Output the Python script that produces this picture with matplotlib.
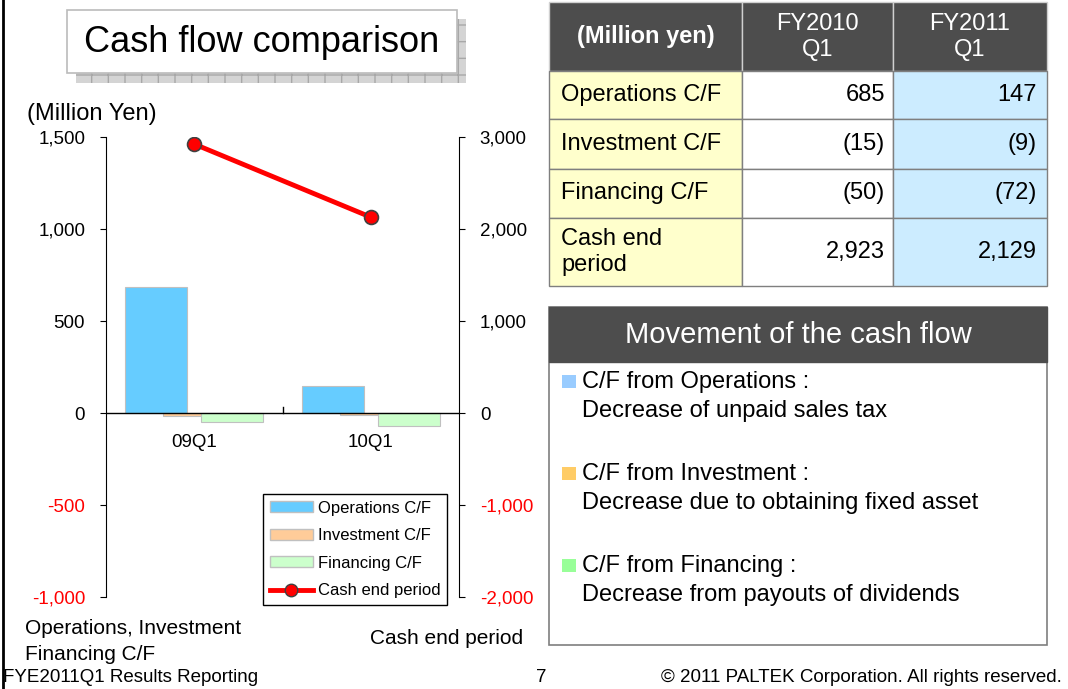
import matplotlib
matplotlib.use("Agg")
import matplotlib.pyplot as plt
from matplotlib.patches import Rectangle, Patch
from matplotlib.lines import Line2D
from matplotlib.ticker import FixedLocator, FuncFormatter

plt.rcParams["font.family"] = ["Liberation Sans", "DejaVu Sans"]
plt.rcParams["axes.unicode_minus"] = False

# chart data (million yen)
quarters = ["09Q1", "10Q1"]
operations = [685, 147]
investment = [-15, -9]
financing = [-50, -72]
cash_end = [2923, 2129]

# table / text panel
row_labels = ["Operations C/F", "Investment C/F", "Financing C/F", "Cash end\nperiod"]
col_labels = ["(Million yen)", "FY2010\nQ1", "FY2011\nQ1"]
fy2010 = [685, -15, -50, 2923]
fy2011 = [147, -9, -72, 2129]
movement_heads = ["C/F from Operations :", "C/F from Investment :", "C/F from Financing :"]
movement_notes = ["Decrease of unpaid sales tax",
                  "Decrease due to obtaining fixed asset",
                  "Decrease from payouts of dividends"]

W, H = 1068, 689
fig = plt.figure(figsize=(W / 100, H / 100), dpi=100)


def fx(x):
    return x / W


def fy(y):
    return 1 - y / H


def box(x0, y0, x1, y1, **kw):
    fig.add_artist(Rectangle((fx(x0), fy(y1)), fx(x1) - fx(x0), fy(y0) - fy(y1),
                             transform=fig.transFigure, **kw))


def txt(x, y, s, **kw):
    fig.text(fx(x), fy(y), s, **kw)


def money(v):
    return "({:,})".format(-v) if v < 0 else "{:,}".format(v)


# left border line
fig.add_artist(Line2D([fx(3), fx(3)], [0, 1], color="black", lw=2, transform=fig.transFigure))

# title box with hatched shadow
box(76, 19, 466, 83, facecolor="#D4D4D4", edgecolor="#A8A8A8", hatch="+", lw=0)
box(67, 10, 457, 73, facecolor="white", edgecolor="#BBBBBB", lw=1.2)
txt(262, 42, "Cash flow comparison", fontsize=26, ha="center", va="center")

# ---- chart ----
ax = fig.add_axes([fx(106), fy(597), fx(459) - fx(106), fy(137) - fy(597)])
ax2 = ax.twinx()
x = list(range(len(quarters)))
bw = 0.351
off = 0.215
edge = "#C0C0C0"
ax.bar([i - off for i in x], operations, bw, color="#66CCFF", edgecolor=edge, lw=0.8,
       label="Operations C/F")
ax.bar(x, investment, bw, color="#FFCC99", edgecolor=edge, lw=0.8, label="Investment C/F")
ax.bar([i + off for i in x], financing, bw, color="#CCFFCC", edgecolor=edge, lw=0.8,
       label="Financing C/F")
ax.axhline(0, color="black", lw=1)
ax.set_xlim(-0.5, 1.5)
ax.set_ylim(-1000, 1500)
ax2.set_ylim(-2000, 3000)
ax2.plot(x, cash_end, color="red", lw=3.5, marker="o", ms=10, mfc="red", mec="#404040",
         mew=1.2, label="Cash end period")

for a in (ax, ax2):
    a.spines["top"].set_visible(False)
    a.spines["bottom"].set_visible(False)
ax.spines["right"].set_visible(False)
ax2.spines["left"].set_visible(False)

fmt = FuncFormatter(lambda v, p: "{:,.0f}".format(v))
ax.yaxis.set_major_locator(FixedLocator([-1000, -500, 0, 500, 1000, 1500]))
ax2.yaxis.set_major_locator(FixedLocator([-2000, -1000, 0, 1000, 2000, 3000]))
for a in (ax, ax2):
    a.yaxis.set_major_formatter(fmt)
    a.tick_params(axis="y", labelsize=13.5, length=4, pad=11)
ax.set_xticks([0.5])
ax.set_xticklabels([""])
ax.tick_params(axis="x", direction="in", length=0)
ax.axvline(0.5, ymin=1000 / 2500, ymax=1000 / 2500 + 0.012, color="black", lw=1)
fig.canvas.draw()
for a in (ax, ax2):
    for lab, v in zip(a.get_yticklabels(), a.get_yticks()):
        if v < 0:
            lab.set_color("red")
for i, q in enumerate(quarters):
    ax.text(i, -160, q, ha="center", va="center", fontsize=13.5)

handles = [Patch(facecolor="#66CCFF", edgecolor=edge, label="Operations C/F"),
           Patch(facecolor="#FFCC99", edgecolor=edge, label="Investment C/F"),
           Patch(facecolor="#CCFFCC", edgecolor=edge, label="Financing C/F"),
           Line2D([], [], color="red", lw=3.5, marker="o", ms=9, mfc="red", mec="#404040",
                  label="Cash end period")]
leg = ax2.legend(handles=handles, loc="upper left", bbox_to_anchor=(fx(263), fy(494)),
                 bbox_transform=fig.transFigure, fontsize=12, fancybox=False,
                 edgecolor="black", framealpha=1, handlelength=2.6, handleheight=0.6,
                 labelspacing=0.75, borderpad=0.4, handletextpad=0.3, borderaxespad=0)
leg.get_frame().set_linewidth(1)

txt(27, 114, "(Million Yen)", fontsize=17, ha="left", va="center")
txt(25, 629, "Operations, Investment", fontsize=15, ha="left", va="center")
txt(25, 654, "Financing C/F", fontsize=15, ha="left", va="center")
txt(370, 638, "Cash end period", fontsize=15, ha="left", va="center")

# ---- table ----
cols = [549, 742, 893, 1047]
rows = [2, 71, 119, 169, 218, 286]
grid = "#7F7F7F"
for c in range(3):
    box(cols[c], rows[0], cols[c + 1], rows[1], facecolor="#4D4D4D", edgecolor="#D0D0D0", lw=1)
fills = ["#FFFFCC", "white", "#CCECFF"]
for r in range(4):
    for c in range(3):
        box(cols[c], rows[r + 1], cols[c + 1], rows[r + 2], facecolor=fills[c],
            edgecolor=grid, lw=1)
txt((cols[0] + cols[1]) / 2, 37, col_labels[0], fontsize=17, fontweight="bold",
    color="white", ha="center", va="center")
for c in (1, 2):
    txt((cols[c] + cols[c + 1]) / 2, 37, col_labels[c], fontsize=17, color="white",
        ha="center", va="center", linespacing=1.2)
for r in range(4):
    yc = (rows[r + 1] + rows[r + 2]) / 2
    txt(561, yc, row_labels[r], fontsize=17, ha="left", va="center", linespacing=1.25)
    txt(885, yc, money(fy2010[r]), fontsize=17, ha="right", va="center")
    txt(1037, yc, money(fy2011[r]), fontsize=17, ha="right", va="center")

# ---- movement panel ----
box(549, 307, 1047, 645, facecolor="white", edgecolor=grid, lw=1.2)
box(549, 307, 1047, 362, facecolor="#4D4D4D", edgecolor="#4D4D4D", lw=1)
txt(798, 335, "Movement of the cash flow", fontsize=21, color="white", ha="center",
    va="center")
bullet_colors = ["#99CCFF", "#FFCC66", "#99FF99"]
head_y = [382, 474, 566]
for bc, hy, h, n in zip(bullet_colors, head_y, movement_heads, movement_notes):
    box(562, hy - 7, 576, hy + 6, facecolor=bc, edgecolor="none")
    txt(582, hy, h, fontsize=17, ha="left", va="center")
    txt(582, hy + 29, n, fontsize=17, ha="left", va="center")

# footer
txt(3, 677, "FYE2011Q1 Results Reporting", fontsize=13.5, ha="left", va="center")
txt(541, 677, "7", fontsize=13.5, ha="center", va="center")
txt(1062, 677, "\u00a9 2011 PALTEK Corporation. All rights reserved.", fontsize=13.5,
    ha="right", va="center")

fig.savefig("out.png", dpi=100)
